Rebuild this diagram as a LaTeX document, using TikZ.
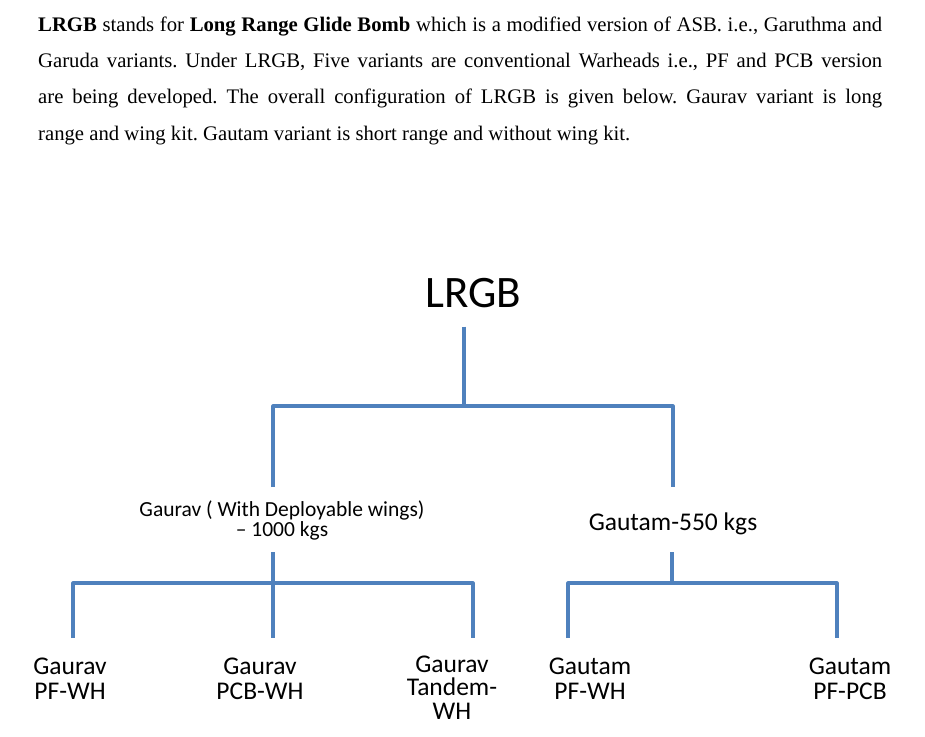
\documentclass[tikz,border=0pt]{standalone}
\usepackage{fontspec}
\setmainfont{Liberation Serif}
\newfontfamily\carlito{Carlito}
\definecolor{linkblue}{RGB}{79,129,189}
\begin{document}
\begin{tikzpicture}[x=1pt,y=-1pt,
  conn/.style={draw=linkblue, line width=3.2pt, line join=round},
  leaf/.style={inner sep=0pt, align=center, font=\carlito\fontsize{25.5}{25}\selectfont},
  mid/.style={inner sep=0pt, align=center}]
\useasboundingbox[fill=white] (0,0) rectangle (925,736);
\node[anchor=base west, inner sep=0pt] (para) at (38,31) {\parbox[t]{844pt}{\frenchspacing\fontsize{20.7}{36.4}\selectfont
\textbf{LRGB} stands for \textbf{Long Range Glide Bomb} which is a modified version of ASB. i.e., Garuthma and\linebreak
Garuda variants. Under LRGB, Five variants are conventional Warheads i.e., PF and PCB version\linebreak
are being developed. The overall configuration of LRGB is given below. Gaurav variant is long\linebreak
range and wing kit. Gautam variant is short range and without wing kit.}};

% root
\node[inner sep=0pt, anchor=base, font=\carlito\fontsize{45}{45}\selectfont] (root) at (473,307) {LRGB};
% second level
\node[mid, anchor=base, font=\carlito\fontsize{21.5}{18}\selectfont] (gaurav) at (282,536) {Gaurav ( With Deployable wings)\\– 1000 kgs};
\node[mid, anchor=base, font=\carlito\fontsize{25.5}{25}\selectfont] (gautam) at (673,530) {Gautam-550 kgs};
% leaves
\node[leaf, anchor=base] (l1) at (70,699) {Gaurav\\PF-WH};
\node[leaf, anchor=base] (l2) at (260,699) {Gaurav\\PCB-WH};
\node[leaf, anchor=base, font=\carlito\fontsize{25.5}{23.5}\selectfont] (l3) at (452,719) {Gaurav\\Tandem-\\WH};
\node[leaf, anchor=base] (l4) at (590,699) {Gautam\\PF-WH};
\node[leaf, anchor=base] (l5) at (850,699) {Gautam\\PF-PCB};

% bus coordinates
\coordinate (b0) at (464,406);
\coordinate (b1) at (273,583);
\coordinate (b2) at (672,583);

% top level
\draw[conn] ([xshift=-9pt,yshift=-19pt]root.south) -- (b0);
\draw[conn] (273,487) -- (273,406) -- (673,406) -- (673,487);

% Gaurav bus
\draw[conn] (273,552) -- (b1) -- (273,638);
\draw[conn] (73,638) -- (73,583) -- (473,583) -- (473,638);
% Gautam bus
\draw[conn] (672,552) -- (b2);
\draw[conn] (568,638) -- (568,583) -- (837,583) -- (837,638);
\end{tikzpicture}
\end{document}
